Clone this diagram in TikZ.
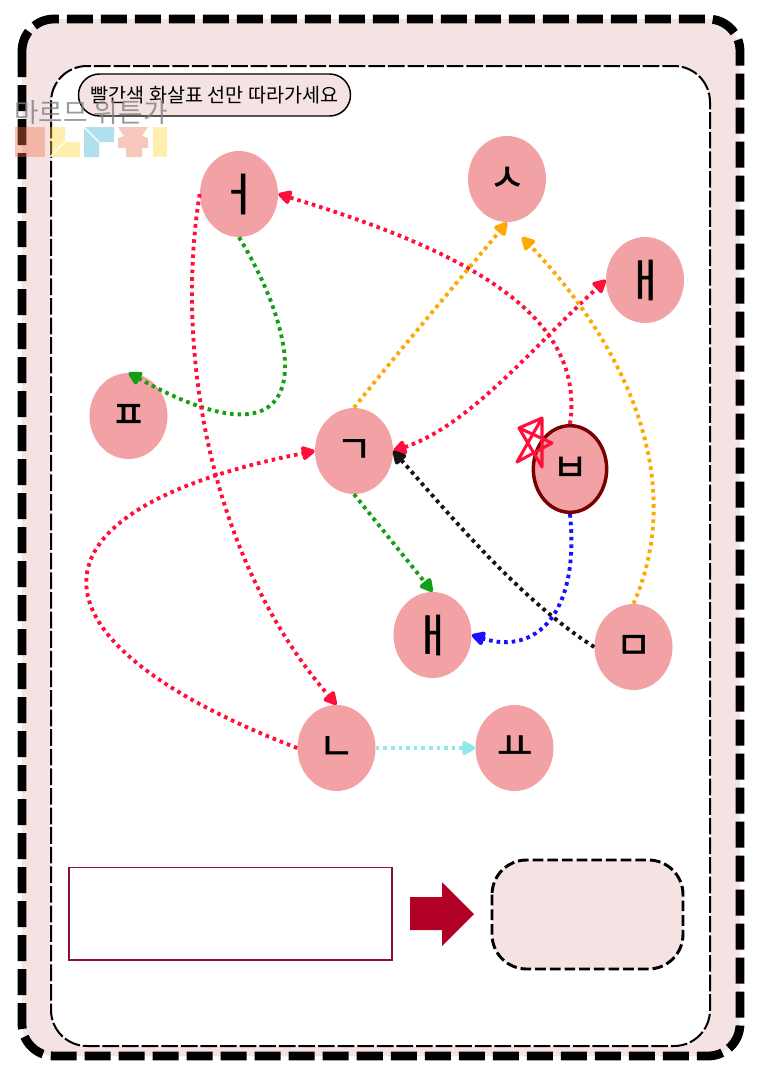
\documentclass[tikz,border=0pt]{standalone}
\usepackage{fontspec}
\usetikzlibrary{arrows.meta,shapes.geometric}
\newfontfamily\krfont{Noto Sans CJK KR}
\newfontfamily\jamofont[FakeBold=1.2]{Noto Sans CJK KR}
\definecolor{paneP}{HTML}{F5E3E3}
\definecolor{nodeP}{HTML}{F2A2A4}
\definecolor{ringR}{HTML}{7A0000}
\definecolor{lnR}{HTML}{FF0F3A}
\definecolor{lnG}{HTML}{12A012}
\definecolor{lnO}{HTML}{FFA800}
\definecolor{lnB}{HTML}{1A0FFF}
\definecolor{lnC}{HTML}{8FE8EC}
\definecolor{lnK}{HTML}{141414}
\definecolor{boxR}{HTML}{8E1030}
\definecolor{bigR}{HTML}{B30027}
\definecolor{lgS}{HTML}{F07048}
\definecolor{lgY}{HTML}{FFD739}
\definecolor{lgB}{HTML}{39B2CF}
\definecolor{lgP}{HTML}{EB785C}
\tikzset{
  jamo/.style={ellipse,fill=nodeP,inner sep=0pt,minimum width=58.5pt,minimum height=64.5pt,font=\jamofont\fontsize{29}{29}\selectfont,text=black},
  tall/.style={font=\jamofont\fontsize{34}{34}\selectfont},
  link/.style={line width=2.9pt,dash pattern=on 2.7pt off 3pt,-{Triangle[length=11.5pt,width=11.5pt,round]}},
  logo/.style={fill opacity=.4,draw=none},
  cutline/.style={white,line width=.9pt}
}
\begin{document}
\begin{tikzpicture}[x=.75pt,y=-.75pt]
\useasboundingbox (0,0) rectangle (760,1076);
\fill[white] (0,0) rectangle (760,1076);
\draw[fill=paneP,line width=6.6pt,dash pattern=on 19.5pt off 6pt,rounded corners=24pt] (22,19) rectangle (740,1056);
\draw[fill=white,line width=1.5pt,dash pattern=on 12.5pt off 2.2pt,rounded corners=27pt] (51,66) rectangle (710,1046);
\node[draw=black,fill=paneP,line width=1.1pt,rounded corners=15.7pt,minimum width=204pt,minimum height=31.5pt,inner sep=0pt,font=\krfont\fontsize{14.7}{15}\selectfont] (title) at (214.5,95) {빨간색 화살표 선만 따라가세요};

\node[jamo,tall] (eo) at (239,194) {ㅓ};
\node[jamo] (si) at (507,179) {ㅅ};
\node[jamo,tall] (ae) at (645,280) {ㅐ};
\node[jamo] (pi) at (128.5,416) {ㅍ};
\node[jamo] (gi) at (354,451) {ㄱ};
\node[jamo,draw=ringR,line width=2.6pt,minimum width=55pt,minimum height=65pt] (bi) at (570,469) {ㅂ};
\node[jamo,tall] (ea) at (432.5,635) {ㅐ};
\node[jamo] (mi) at (633.5,647) {ㅁ};
\node[jamo] (ni) at (336.5,748) {ㄴ};
\node[jamo] (yo) at (514.5,748) {ㅛ};

\coordinate (freeO) at (522,237);

\draw[link,lnR] (bi.north) .. controls (585,320) and (480,255) .. (eo.east);
\draw[link,lnR,{Triangle[length=11.5pt,width=11.5pt,round]}-{Triangle[length=11.5pt,width=11.5pt,round]}] (gi.east) .. controls (470,425) and (530,350) .. (ae.west);
\draw[link,lnO] (gi.north) .. controls (400,350) and (455,285) .. (si.south);
\draw[link,lnO] (mi.north) .. controls (688,480) and (625,345) .. (freeO);
\draw[link,lnG] (eo.south) .. controls (305,345) and (322,480) .. (pi.north);
\draw[link,lnG] (gi.south) -- (ea.north);
\draw[link,lnR] (eo.west) .. controls (175,345) and (207,555) .. (ni.north);
\draw[link,lnR] (ni.west) .. controls (15,640) and (15,510) .. (gi.west);
\draw[link,lnK] (mi.west) .. controls (520,600) and (450,515) .. (gi.east);
\draw[link,lnB] (bi.south) .. controls (580,615) and (535,655) .. (ea.east);
\draw[link,lnC] (ni.east) -- (yo.west);

\draw[lnR,line width=2.3pt,line join=round] (542,418) -- (519,428) -- (552,443) -- (517,462) -- (542,418) -- (542,467) -- (519,428);

\draw[boxR,line width=.9pt,fill=white] (69,867.5) rectangle (392,960);
\fill[bigR] (410,897) -- (442,897) -- (442,882) -- (474,914) -- (442,946) -- (442,930) -- (410,930) -- cycle;
\draw[black,fill=paneP,line width=2.2pt,dash pattern=on 8pt off 3pt,rounded corners=26pt] (492,860) rectangle (683,969);

\fill[logo,lgS] (15,127) rectangle (45,157);
\fill[logo,lgY] (50,127) -- (65,127) -- (65,142) -- (80,142) -- (80,157) -- (50,157) -- cycle;
\draw[cutline] (50,157) -- (65,142);
\fill[logo,lgB] (84,127) -- (114,127) -- (114,142) -- (99,142) -- (99,157) -- (84,157) -- cycle;
\draw[cutline] (84,127) -- (99,142);
\fill[logo,lgP] (118,127) -- (148,127) -- (142,136) -- (148,138) -- (148,148) -- (142,148) -- (142,157) -- (126,157) -- (126,148) -- (118,148) -- (118,138) -- (124,136) -- cycle;
\fill[logo,lgY] (153,127) rectangle (167,157);
\node[text=gray,text opacity=.8,inner sep=0pt,font=\krfont\fontsize{20}{20}\selectfont] (mark) at (91,113) {마르므 위튼가};
\end{tikzpicture}
\end{document}
